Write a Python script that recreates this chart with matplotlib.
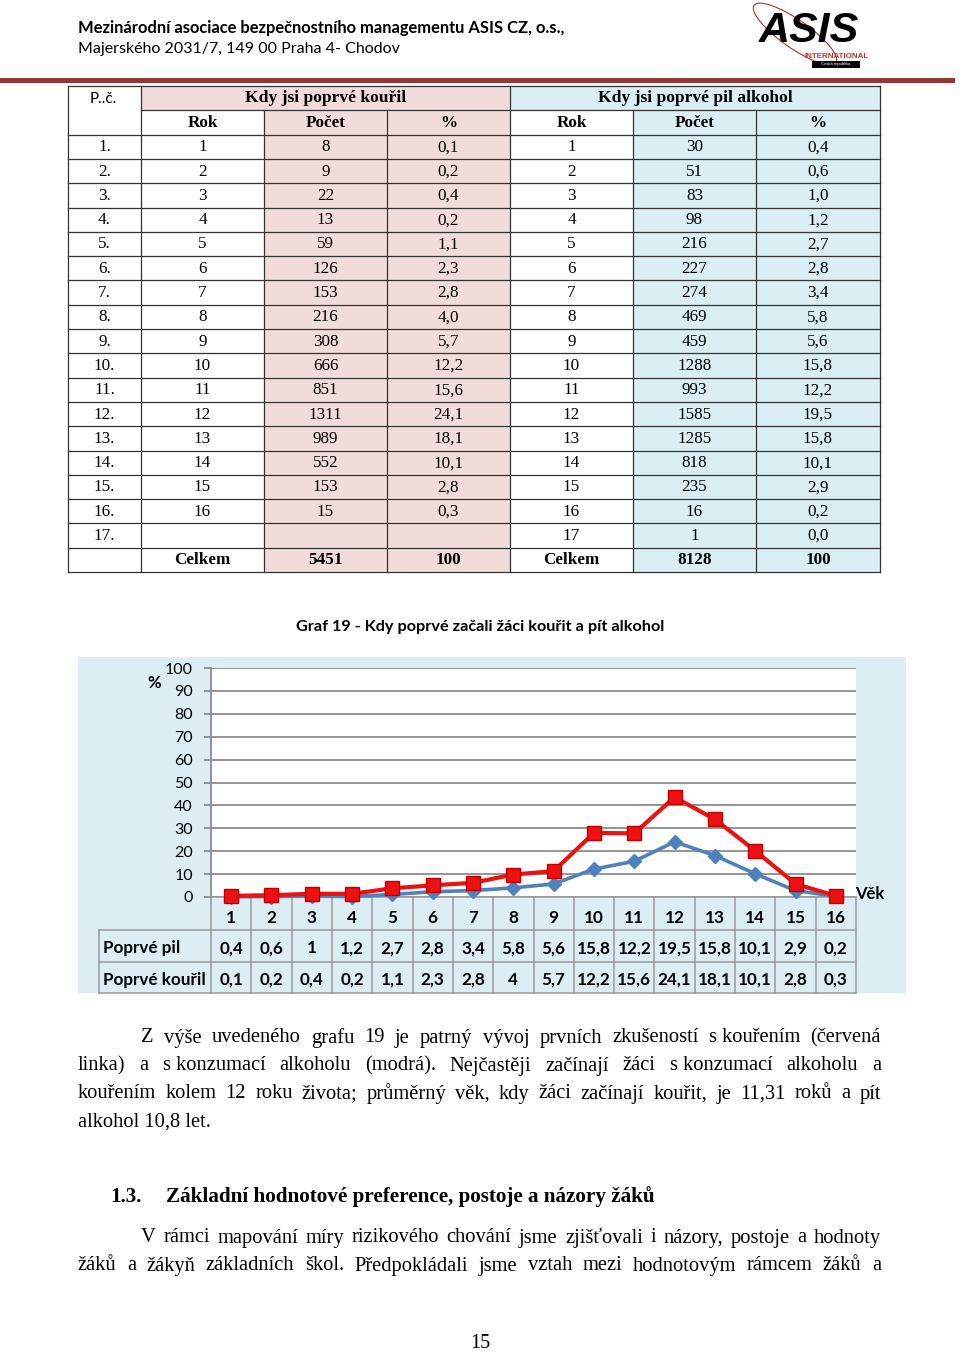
import numpy as np
import matplotlib.pyplot as plt
from matplotlib.patches import Rectangle, Ellipse

# ---- data -------------------------------------------------------------
row_labels = [f'{i}.' for i in range(1, 18)]
smoke_year = [str(i) for i in range(1, 17)] + ['']
smoke_count = [8, 9, 22, 13, 59, 126, 153, 216, 308, 666, 851, 1311, 989, 552, 153, 15]
smoke_pct = [0.1, 0.2, 0.4, 0.2, 1.1, 2.3, 2.8, 4.0, 5.7, 12.2, 15.6, 24.1, 18.1, 10.1, 2.8, 0.3]
alc_year = [str(i) for i in range(1, 18)]
alc_count = [30, 51, 83, 98, 216, 227, 274, 469, 459, 1288, 993, 1585, 1285, 818, 235, 16, 1]
alc_pct = [0.4, 0.6, 1.0, 1.2, 2.7, 2.8, 3.4, 5.8, 5.6, 15.8, 12.2, 19.5, 15.8, 10.1, 2.9, 0.2, 0.0]
smoke_total, alc_total = 5451, 8128

ages = list(range(1, 17))
pil = alc_pct[:16]          # Poprvé pil
kouril = smoke_pct          # Poprvé kouřil

SERIF = 'Liberation Serif'
SANS = 'Lato'
PINK = '#F2DCDB'
BLUE = '#DAEEF3'


def comma(v, fmt='{:.1f}'):
    return fmt.format(v).replace('.', ',')


fig = plt.figure(figsize=(9.6, 13.54), dpi=100)
page = fig.add_axes([0, 0, 1, 1])
page.set_xlim(0, 960)
page.set_ylim(1354, 0)
page.axis('off')

# ---- header -----------------------------------------------------------
page.text(78, 28, 'Mezinárodní asociace bezpečnostního managementu ASIS CZ, o.s.,',
          family=SANS, fontsize=11.9, weight='bold', va='center')
page.text(78, 49, 'Majerského 2031/7, 149 00 Praha 4- Chodov',
          family=SANS, fontsize=11.5, va='center')
page.add_patch(Rectangle((0, 77.5), 955, 5, color='#953735', lw=0))

# logo
page.add_patch(Ellipse((795, 34), 100, 28, angle=35, fill=False, ec='#B03030', lw=0.8))
page.text(809, 31, 'ASIS', family='Liberation Sans', fontsize=31, weight='bold',
          style='italic', ha='center', va='center', color='black')
page.text(837, 56.5, 'INTERNATIONAL', family='Liberation Sans', fontsize=5.8,
          weight='bold', color='#C0392B', ha='center', va='center')
page.add_patch(Rectangle((812, 60.5), 48, 7, color='black', lw=0))
page.text(836, 64, 'Česká republika', family='Liberation Sans', fontsize=3,
          color='white', ha='center', va='center')

# ---- table ------------------------------------------------------------
col_x = [68, 141, 264, 387, 510, 633, 756, 880]
row_h = 24.3
top = 86
n_rows = 20


def cell(ci, ri, color):
    page.add_patch(Rectangle((col_x[ci], top + ri * row_h),
                             col_x[ci + 1] - col_x[ci], row_h, color=color, lw=0))


for ri in range(n_rows):
    for ci in (2, 3):
        cell(ci, ri, PINK)
    for ci in (5, 6):
        cell(ci, ri, BLUE)
page.add_patch(Rectangle((col_x[1], top), col_x[4] - col_x[1], row_h, color=PINK, lw=0))
page.add_patch(Rectangle((col_x[4], top), col_x[7] - col_x[4], row_h, color=BLUE, lw=0))

bottom = top + n_rows * row_h
lc = '#333333'
for ri in range(n_rows + 1):
    y = top + ri * row_h
    x0 = col_x[1] if ri == 1 else col_x[0]
    page.plot([x0, col_x[-1]], [y, y], color=lc, lw=0.9)
for ci, x in enumerate(col_x):
    y0 = top + row_h if ci in (2, 3, 5, 6) else top
    page.plot([x, x], [y0, bottom], color=lc, lw=0.9)


def ctext(ci, ri, s, bold=False):
    xx = (col_x[ci] + col_x[ci + 1]) / 2
    page.text(xx, top + (ri + 0.5) * row_h + 0.5, s, family=SERIF, fontsize=12.3,
              weight='bold' if bold else 'normal', ha='center', va='center')


page.text(90, top + 0.55 * row_h, 'P..č.', family=SANS, fontsize=11, va='center')
page.text((col_x[1] + col_x[4]) / 2, top + 0.5 * row_h, 'Kdy jsi poprvé kouřil',
          family=SERIF, fontsize=12.6, weight='bold', ha='center', va='center')
page.text((col_x[4] + col_x[7]) / 2, top + 0.5 * row_h, 'Kdy jsi poprvé pil alkohol',
          family=SERIF, fontsize=12.6, weight='bold', ha='center', va='center')
for ci, s in zip(range(1, 7), ['Rok', 'Počet', '%', 'Rok', 'Počet', '%']):
    ctext(ci, 1, s, bold=True)

for i in range(17):
    ri = i + 2
    ctext(0, ri, row_labels[i])
    ctext(1, ri, smoke_year[i])
    if i < len(smoke_count):
        ctext(2, ri, str(smoke_count[i]))
        ctext(3, ri, comma(smoke_pct[i]))
    ctext(4, ri, alc_year[i])
    ctext(5, ri, str(alc_count[i]))
    ctext(6, ri, comma(alc_pct[i]))
for ci, s in zip(range(1, 7), ['Celkem', str(smoke_total), '100',
                               'Celkem', str(alc_total), '100']):
    ctext(ci, 19, s, bold=True)

# ---- chart ------------------------------------------------------------
page.text(480, 627, 'Graf 19 - Kdy poprvé začali žáci kouřit a pít alkohol',
          family=SANS, fontsize=11.7, weight='bold', ha='center', va='center')
page.add_patch(Rectangle((78, 657), 828, 336, color='#DCEEF4', lw=0))

px_l, px_r, px_t, px_b = 211, 856, 668, 897
ax = fig.add_axes([px_l / 960, 1 - px_b / 1354, (px_r - px_l) / 960, (px_b - px_t) / 1354])
ax.set_facecolor('white')
ax.set_xlim(0.5, 16.5)
ax.set_ylim(0, 100)
ax.set_yticks(range(0, 101, 10))
ax.set_xticks([])
ax.grid(axis='y', color='#8C8C8C', lw=1.3)
ax.set_axisbelow(True)
for s in ('top', 'right', 'bottom'):
    ax.spines[s].set_visible(False)
ax.spines['left'].set_color('#8C8C8C')
ax.spines['left'].set_linewidth(1.3)
ax.tick_params(axis='y', length=5, width=1.3, color='#8C8C8C', pad=8, labelsize=11.5)
for lab in ax.get_yticklabels():
    lab.set_family(SANS)

stacked = np.array(kouril) + np.array(pil)
ax.plot(ages, kouril, color='#4F81BD', lw=2.6, marker='D', ms=7,
        mfc='#4F81BD', mec='#4F81BD', clip_on=False, zorder=3)
ax.plot(ages, stacked, color='#EE1111', lw=3, marker='s', ms=9.5,
        mfc='#EE1111', mec='#C00000', clip_on=False, zorder=4)

# data table under the axis
tr = ax.get_xaxis_transform()
h = px_b - px_t
row_y = [0, -33 / h, -65 / h, -96 / h]
left_x = 0.5 + (99 - px_l) / ((px_r - px_l) / 16)
gc = '#9A9A9A'
for k, y in enumerate(row_y):
    x0 = 0.5 if k == 0 else left_x
    ax.plot([x0, 16.5], [y, y], color=gc, lw=1.1, transform=tr, clip_on=False)
for xv in np.arange(0.5, 17, 1):
    ax.plot([xv, xv], [0, row_y[-1]], color=gc, lw=1.1, transform=tr, clip_on=False)
ax.plot([left_x, left_x], [row_y[1], row_y[-1]], color=gc, lw=1.1, transform=tr, clip_on=False)

TS = 12.3
for a, p, k in zip(ages, pil, kouril):
    ax.text(a, (row_y[0] + row_y[1]) / 2 - 0.02, str(a), transform=tr, ha='center',
            va='center', family=SANS, fontsize=TS, weight='bold')
    ax.text(a, (row_y[1] + row_y[2]) / 2 - 0.01, comma(p, '{:g}'), transform=tr, ha='center',
            va='center', family=SANS, fontsize=TS, weight='bold')
    ax.text(a, (row_y[2] + row_y[3]) / 2 - 0.01, comma(k, '{:g}'), transform=tr, ha='center',
            va='center', family=SANS, fontsize=TS, weight='bold')
ax.text(left_x + 0.1, (row_y[1] + row_y[2]) / 2 - 0.01, 'Poprvé pil', transform=tr,
        ha='left', va='center', family=SANS, fontsize=TS, weight='bold')
ax.text(left_x + 0.1, (row_y[2] + row_y[3]) / 2 - 0.01, 'Poprvé kouřil', transform=tr,
        ha='left', va='center', family=SANS, fontsize=TS, weight='bold')

page.text(154, 683, '%', family=SANS, fontsize=12, weight='bold', ha='center', va='center')
page.text(870, 894, 'Věk', family=SANS, fontsize=12, weight='bold', ha='center', va='center')

# ---- body text --------------------------------------------------------
renderer = fig.canvas.get_renderer()
BODY = 14.8


def justify(words, y, x0, x1=881, size=BODY, weight='normal'):
    ts = [page.text(0, y, w, family=SERIF, fontsize=size, weight=weight, va='center')
          for w in words]
    ws = [t.get_window_extent(renderer).width for t in ts]
    gap = (x1 - x0 - sum(ws)) / (len(ws) - 1)
    x = x0
    for t, w in zip(ts, ws):
        t.set_x(x)
        x += w + gap


justify(['Z', 'výše', 'uvedeného', 'grafu', '19', 'je', 'patrný', 'vývoj', 'prvních',
         'zkušeností', 's kouřením', '(červená'], 1038, 141)
justify(['linka)', 'a', 's konzumací', 'alkoholu', '(modrá).', 'Nejčastěji', 'začínají',
         'žáci', 's konzumací', 'alkoholu', 'a'], 1066, 78)
justify(['kouřením', 'kolem', '12', 'roku', 'života;', 'průměrný', 'věk,', 'kdy', 'žáci',
         'začínají', 'kouřit,', 'je', '11,31', 'roků', 'a', 'pít'], 1094, 78)
page.text(78, 1122, 'alkohol 10,8 let.', family=SERIF, fontsize=BODY, va='center')

page.text(110, 1197, '1.3.', family=SERIF, fontsize=15.2, weight='bold', va='center')
page.text(166, 1197, 'Základní hodnotové preference, postoje a názory žáků',
          family=SERIF, fontsize=15.2, weight='bold', va='center')

justify(['V', 'rámci', 'mapování', 'míry', 'rizikového', 'chování', 'jsme', 'zjišťovali',
         'i', 'názory,', 'postoje', 'a', 'hodnoty'], 1238, 141)
justify(['žáků', 'a', 'žákyň', 'základních', 'škol.', 'Předpokládali', 'jsme', 'vztah',
         'mezi', 'hodnotovým', 'rámcem', 'žáků', 'a'], 1266, 78)

page.text(480, 1344, '15', family=SERIF, fontsize=14.5, ha='center', va='center')

fig.savefig('out.png', dpi=100)
